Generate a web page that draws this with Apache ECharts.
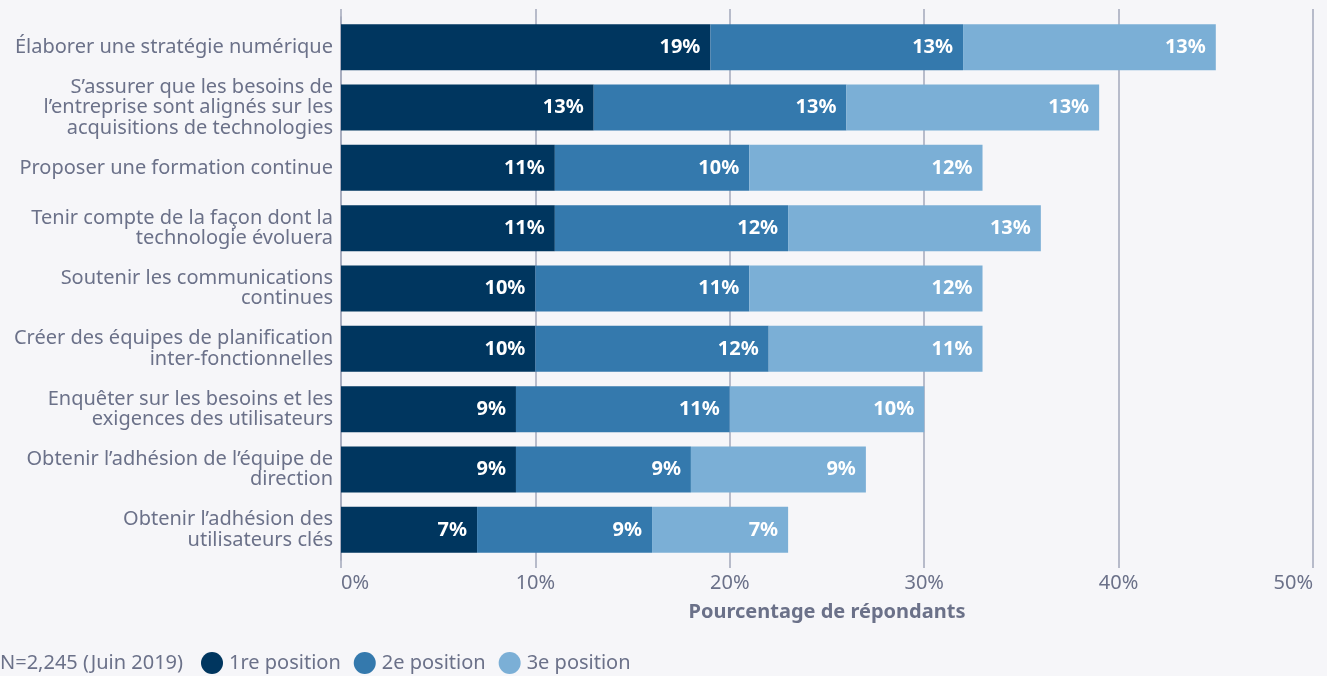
<!DOCTYPE html>
<html>
<head>
<meta charset="utf-8">
<script src="https://cdn.jsdelivr.net/npm/echarts@6/dist/echarts.min.js"></script>
<style>
  html, body { margin: 0; padding: 0; background: #f6f6f9; }
  #chart { width: 1327px; height: 676px; }
</style>
</head>
<body>
<div id="chart"></div>
<script>
// Priorities, listed top to bottom
const categories = [
  "Élaborer une stratégie numérique",
  "S’assurer que les besoins de\nl’entreprise sont alignés sur les\nacquisitions de technologies",
  "Proposer une formation continue",
  "Tenir compte de la façon dont la\ntechnologie évoluera",
  "Soutenir les communications\ncontinues",
  "Créer des équipes de planification\ninter-fonctionnelles",
  "Enquêter sur les besoins et les\nexigences des utilisateurs",
  "Obtenir l’adhésion de l’équipe de\ndirection",
  "Obtenir l’adhésion des\nutilisateurs clés"
];
const seriesNames = ["1re position", "2e position", "3e position"];
const first  = [19, 13, 11, 11, 10, 10, 9, 9, 7];
const second = [13, 13, 10, 12, 11, 12, 11, 9, 9];
const third  = [13, 13, 12, 13, 12, 11, 10, 9, 7];
const xTicks = [0, 10, 20, 30, 40, 50];
const note = "N=2,245 (Juin 2019)";

const colors = ["#00365f", "#3479ad", "#7bafd6"];
const textColor = "#6b7189";
const gridColor = "#a3a8bb";
const fontFamily = "'Noto Sans', sans-serif";
const fs = 20;

const chart = echarts.init(document.getElementById("chart"), null, { renderer: "canvas" });

const makeSeries = (name, data, i) => ({
  name,
  type: "bar",
  stack: "total",
  data,
  barWidth: 46,
  itemStyle: { color: colors[i] },
  label: {
    show: true,
    position: "insideRight",
    distance: 10,
    formatter: p => p.value + "%",
    color: "#ffffff",
    fontWeight: "bold",
    fontSize: fs,
    fontFamily
  },
  emphasis: { disabled: true }
});

chart.setOption({
  backgroundColor: "#f6f6f9",
  animation: false,
  textStyle: { fontFamily },
  grid: { left: 341, right: 14, top: 17, bottom: 116, containLabel: false },
  legend: {
    left: 201,
    top: 652,
    padding: 0,
    icon: "circle",
    itemWidth: 22,
    itemHeight: 22,
    itemGap: 13,
    textStyle: { color: textColor, fontSize: fs, fontFamily, padding: [0, 0, 0, 1] },
    data: seriesNames
  },
  graphic: [{
    type: "text",
    left: 0,
    top: 653,
    style: { text: note, fill: textColor, font: fs + "px 'Noto Sans', sans-serif" }
  }],
  xAxis: [{
    type: "value",
    min: xTicks[0],
    max: xTicks[xTicks.length - 1],
    interval: 10,
    position: "bottom",
    axisLine: { show: false },
    axisTick: { show: true, length: 8, lineStyle: { color: gridColor, width: 1.5 } },
    splitLine: { show: true, lineStyle: { color: gridColor, width: 1.5 } },
    axisLabel: {
      color: textColor,
      fontSize: fs,
      fontFamily,
      margin: 13,
      formatter: v => v + "%",
      alignMinLabel: "left",
      alignMaxLabel: "right"
    },
    name: "Pourcentage de répondants",
    nameLocation: "middle",
    nameGap: 42,
    nameTextStyle: { color: textColor, fontSize: fs, fontWeight: "bold", fontFamily }
  }, {
    type: "value",
    min: xTicks[0],
    max: xTicks[xTicks.length - 1],
    interval: 10,
    position: "top",
    axisLine: { show: false },
    axisTick: { show: true, length: 8, lineStyle: { color: gridColor, width: 1.5 } },
    splitLine: { show: false },
    axisLabel: { show: false }
  }],
  yAxis: {
    type: "category",
    inverse: true,
    data: categories,
    axisLine: { show: true, lineStyle: { color: gridColor, width: 1.5 } },
    axisTick: { show: false },
    axisLabel: {
      color: textColor,
      fontSize: fs,
      fontFamily,
      lineHeight: 20.5,
      margin: 8,
      align: "right",
      padding: [4, 0, 0, 0]
    }
  },
  series: [
    makeSeries(seriesNames[0], first, 0),
    makeSeries(seriesNames[1], second, 1),
    makeSeries(seriesNames[2], third, 2)
  ]
});
</script>
</body>
</html>
